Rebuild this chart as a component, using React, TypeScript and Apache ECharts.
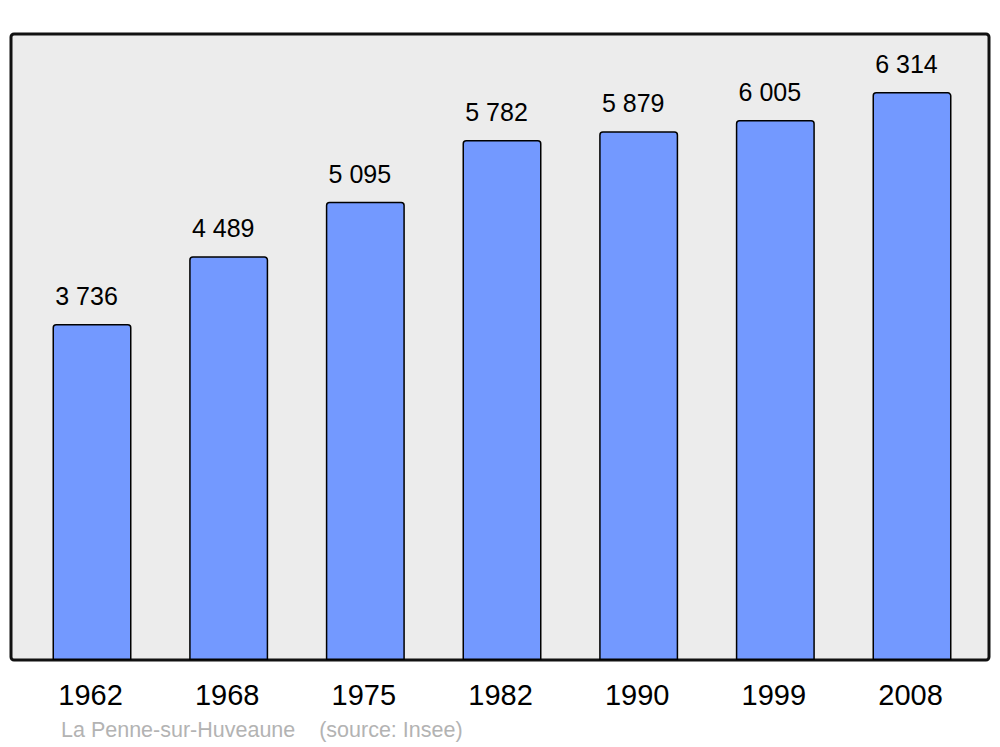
import React, { useEffect, useRef } from "react";
import * as echarts from "echarts";

const years = ["1962", "1968", "1975", "1982", "1990", "1999", "2008"];
const population = [3736, 4489, 5095, 5782, 5879, 6005, 6314];
const sourceText = "La Penne-sur-Huveaune    (source: Insee)";

const fmt = (v: number) => {
  const s = String(v);
  return s.length > 3 ? s.slice(0, s.length - 3) + " " + s.slice(-3) : s;
};

export default function App() {
  const ref = useRef<HTMLDivElement>(null);
  useEffect(() => {
    document.body.style.margin = "0";
    const chart = echarts.init(ref.current!, undefined, { renderer: "svg" });
    chart.setOption({
      animation: false,
      backgroundColor: "#ffffff",
      textStyle: { fontFamily: "Liberation Sans" },
      grid: { left: 23.67, right: 19.67, top: 34, bottom: 87 },
      graphic: [
        {
          type: "rect",
          z: -10,
          shape: { x: 11, y: 34, width: 978, height: 626, r: 3 },
          style: { fill: "#ececec", stroke: "#111111", lineWidth: 3 },
        },
        {
          type: "text",
          x: 61,
          y: 730,
          style: {
            text: sourceText,
            fill: "#b3b3b3",
            font: "21.5px 'Liberation Sans'",
            textVerticalAlign: "middle",
          },
        },
      ],
      xAxis: {
        type: "category",
        data: years,
        axisLine: { show: false },
        axisTick: { show: false },
        axisLabel: {
          color: "#000",
          fontSize: 29,
          margin: 20,
          padding: [0, 3, 0, 0],
          fontFamily: "Liberation Sans",
        },
      },
      yAxis: {
        type: "value",
        min: 0,
        max: 6960,
        show: false,
        splitLine: { show: false },
      },
      series: [
        {
          type: "bar",
          data: population,
          barWidth: 79,
          itemStyle: {
            color: "#7399ff",
            borderColor: "#000",
            borderWidth: 1.5,
            borderRadius: [3, 3, 0, 0],
          },
          label: {
            show: true,
            position: "top",
            distance: 15.5,
            offset: [-5.5, 0],
            color: "#000",
            fontSize: 25,
            fontFamily: "Liberation Sans",
            formatter: (p: any) => fmt(p.value),
          },
        },
      ],
    });
    return () => chart.dispose();
  }, []);
  return <div ref={ref} style={{ width: 1000, height: 747 }} />;
}
